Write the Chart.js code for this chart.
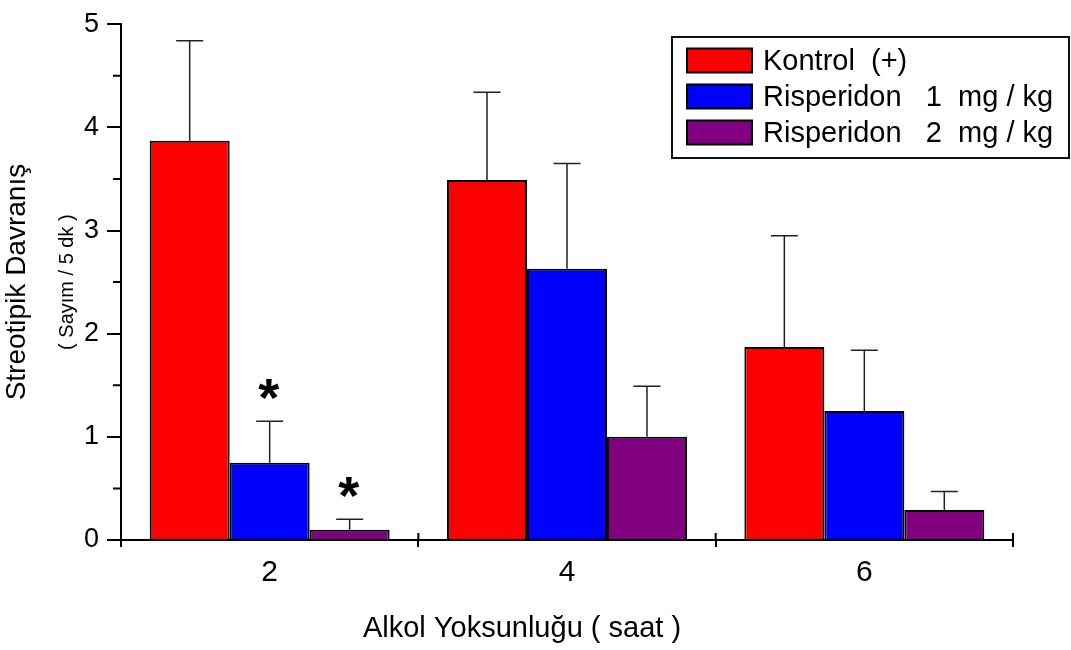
<!DOCTYPE html>
<html>
<head>
<meta charset="utf-8">
<script src="https://cdn.jsdelivr.net/npm/chart.js@4.4.1/dist/chart.umd.min.js"></script>
<style>
  html, body { margin: 0; padding: 0; background: #fff; }
  #wrap { width: 1071px; height: 650px; }
</style>
</head>
<body>
<div id="wrap"><canvas id="c" width="1071" height="650"></canvas></div>
<script>
// ---- data ----
const categories = ['2', '4', '6'];
const seriesNames = ['Kontrol  (+)', 'Risperidon   1  mg / kg', 'Risperidon   2  mg / kg'];
const kontrol = [3.87, 3.49, 1.87];
const kontrolErr = [0.97, 0.85, 1.08];
const ris1 = [0.75, 2.63, 1.25];
const ris1Err = [0.40, 1.02, 0.59];
const ris2 = [0.10, 1.00, 0.29];
const ris2Err = [0.10, 0.49, 0.18];
const kontrolSig = ['', '', ''];
const ris1Sig = ['*', '', ''];
const ris2Sig = ['*', '', ''];
const yTicks = [0, 1, 2, 3, 4, 5];
const xTitle = 'Alkol Yoksunluğu ( saat )';
const yTitle = 'Streotipik Davranış';
const ySubTitle = '( Sayım / 5 dk )';

const colors = ['#FF0000', '#0000FF', '#800080'];
const FONT = '"Liberation Sans", Arial, Helvetica, sans-serif';

const errors = [kontrolErr, ris1Err, ris2Err];
const sigs = [kontrolSig, ris1Sig, ris2Sig];

const extrasPlugin = {
  id: 'extras',
  afterDatasetsDraw(chart) {
    const ctx = chart.ctx;
    const y = chart.scales.y;
    const x = chart.scales.x;
    const area = chart.chartArea;
    ctx.save();
    // error bars
    chart.data.datasets.forEach((ds, di) => {
      const meta = chart.getDatasetMeta(di);
      meta.data.forEach((bar, j) => {
        const top = y.getPixelForValue(ds.data[j] + errors[di][j]);
        const cx = bar.x;
        ctx.strokeStyle = '#222';
        ctx.lineWidth = 1.5;
        ctx.beginPath();
        ctx.moveTo(cx, bar.y);
        ctx.lineTo(cx, top);
        ctx.moveTo(cx - 13.5, top);
        ctx.lineTo(cx + 13.5, top);
        ctx.stroke();
        const s = sigs[di][j];
        if (s) {
          ctx.fillStyle = '#000';
          ctx.font = 'bold 54px ' + FONT;
          ctx.textAlign = 'center';
          ctx.textBaseline = 'alphabetic';
          ctx.fillText(s, cx - 1, top - 5);
        }
      });
    });
    // minor y ticks (midpoints between major ticks)
    const tv = y.ticks.map(t => t.value);
    ctx.strokeStyle = '#000';
    ctx.lineWidth = 2;
    ctx.beginPath();
    for (let i = 0; i < tv.length - 1; i++) {
      const py = y.getPixelForValue((tv[i] + tv[i + 1]) / 2);
      ctx.moveTo(area.left - 8, py);
      ctx.lineTo(area.left, py);
    }
    // x ticks upward part
    const step = x.getPixelForValue(1) - x.getPixelForValue(0);
    for (let i = 0; i <= categories.length; i++) {
      const px = x.getPixelForValue(0) - step / 2 + i * step;
      ctx.moveTo(px, area.bottom);
      ctx.lineTo(px, area.bottom - 7);
    }
    ctx.stroke();
    ctx.restore();
  },
  afterDraw(chart) {
    const ctx = chart.ctx;
    const area = chart.chartArea;
    ctx.save();
    // y subtitle
    ctx.fillStyle = '#000';
    ctx.font = '20px ' + FONT;
    ctx.translate(67, (area.top + area.bottom) / 2);
    ctx.rotate(-Math.PI / 2);
    ctx.textAlign = 'center';
    ctx.textBaseline = 'middle';
    ctx.fillText(ySubTitle, 0, 0);
    ctx.restore();

    // x title
    ctx.save();
    ctx.fillStyle = '#000';
    ctx.font = '29px ' + FONT;
    ctx.textAlign = 'center';
    ctx.textBaseline = 'alphabetic';
    ctx.fillText(xTitle, 522, 637);
    ctx.restore();

    // legend
    ctx.save();
    const lx = 672, ly = 37, lw = 397, lh = 121;
    ctx.fillStyle = '#fff';
    ctx.fillRect(lx, ly, lw, lh);
    ctx.strokeStyle = '#111';
    ctx.lineWidth = 2;
    ctx.strokeRect(lx, ly, lw, lh);
    ctx.font = '29px ' + FONT;
    ctx.textAlign = 'left';
    ctx.textBaseline = 'middle';
    chart.data.datasets.forEach((ds, i) => {
      const cy = 60.5 + i * 36;
      ctx.fillStyle = ds.backgroundColor;
      ctx.fillRect(687, cy - 12, 65, 24);
      ctx.strokeStyle = '#000';
      ctx.lineWidth = 2;
      ctx.strokeRect(687, cy - 12, 65, 24);
      ctx.fillStyle = '#000';
      ctx.fillText(ds.label, 763, cy + 1);
    });
    ctx.restore();
  }
};

new Chart(document.getElementById('c'), {
  type: 'bar',
  data: {
    labels: categories,
    datasets: [
      { label: seriesNames[0], data: kontrol, backgroundColor: colors[0] },
      { label: seriesNames[1], data: ris1, backgroundColor: colors[1] },
      { label: seriesNames[2], data: ris2, backgroundColor: colors[2] }
    ].map(d => Object.assign(d, {
      borderColor: '#000', borderWidth: 2, borderSkipped: 'start',
      categoryPercentage: 0.807, barPercentage: 1.0
    }))
  },
  options: {
    responsive: false,
    animation: false,
    devicePixelRatio: 1,
    layout: { padding: { left: 0, right: 58, top: 20, bottom: 0 } },
    plugins: { legend: { display: false }, tooltip: { enabled: false } },
    scales: {
      x: {
        offset: true,
        grid: { display: true, drawOnChartArea: false, offset: true, tickLength: 7, color: '#000', lineWidth: 2 },
        border: { display: true, color: '#000', width: 2 },
        ticks: { color: '#000', font: { family: FONT, size: 30 }, padding: 8 },
        afterFit(scale) { scale.height = 110; }
      },
      y: {
        min: 0, max: 5,
        afterBuildTicks(scale) { scale.ticks = yTicks.map(v => ({ value: v })); },
        grid: { display: true, drawOnChartArea: false, tickLength: 14, color: '#000', lineWidth: 2 },
        border: { display: true, color: '#000', width: 2 },
        ticks: { color: '#000', font: { family: FONT, size: 27 }, padding: 8 },
        title: { display: true, text: yTitle, color: '#000', font: { family: FONT, size: 28 }, padding: { top: 0, bottom: 0 } },
        afterFit(scale) { scale.width = 121; }
      }
    }
  },
  plugins: [extrasPlugin]
});
</script>
</body>
</html>
